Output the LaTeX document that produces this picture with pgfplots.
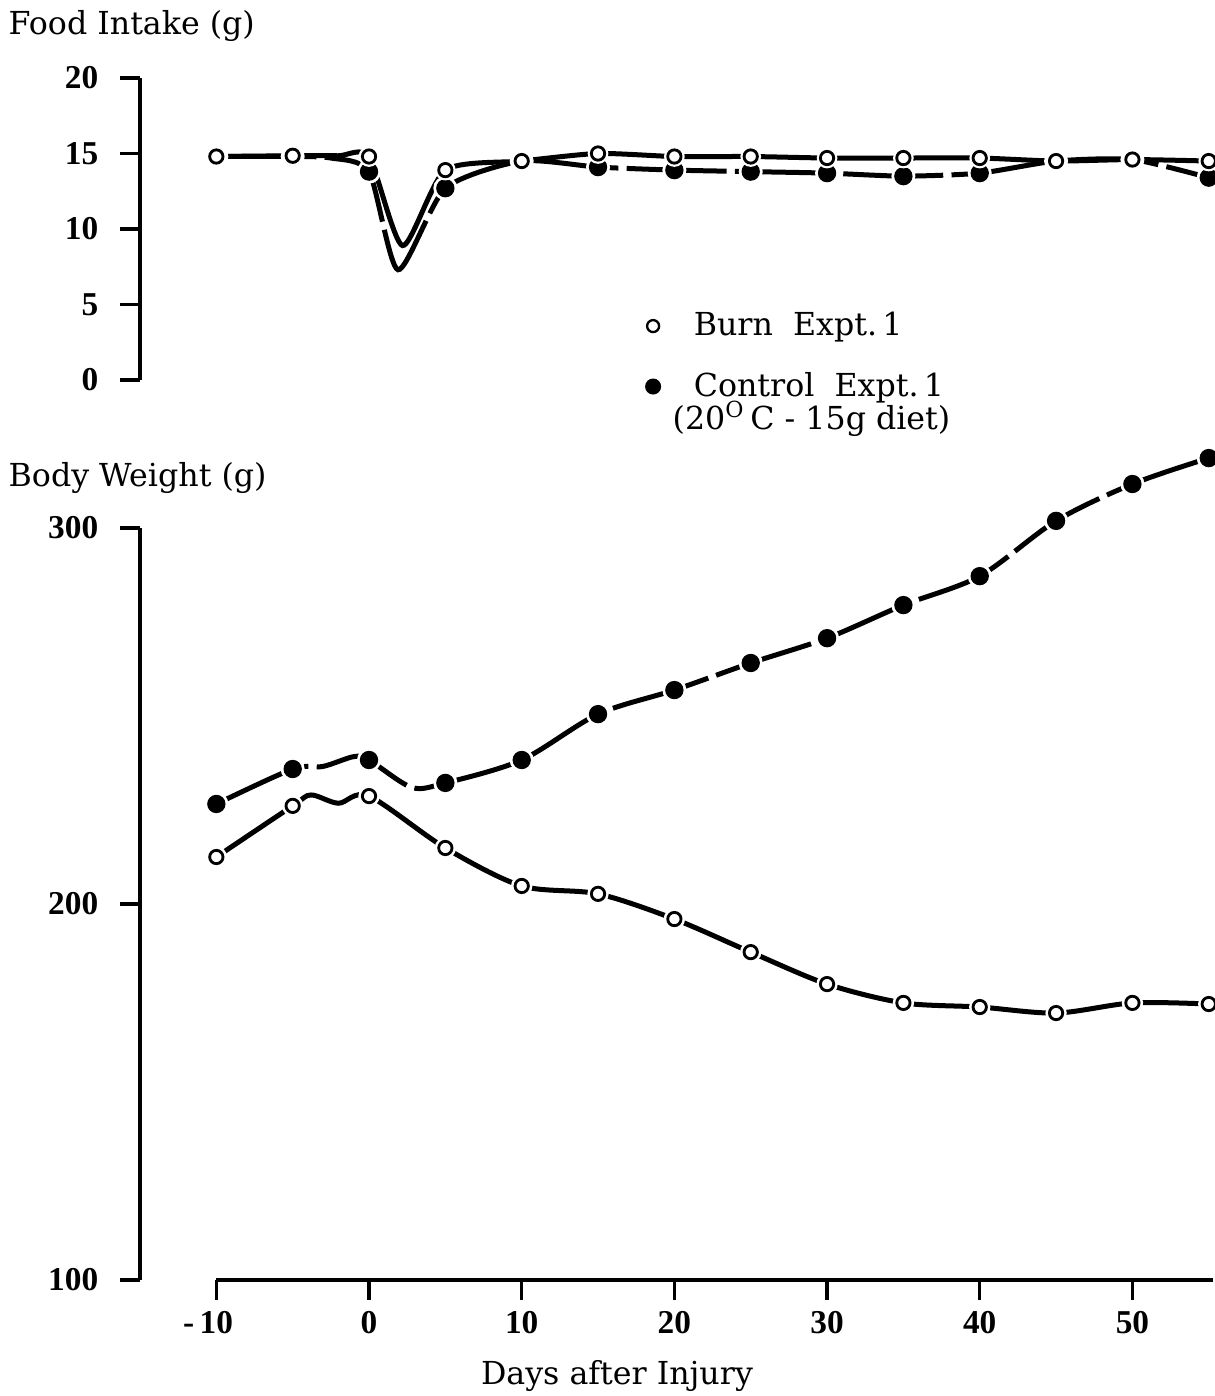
\documentclass[border=0pt]{standalone}
\usepackage{pgfplots}
\pgfplotsset{compat=1.18}
\usepackage{fontspec}
\setmainfont{DejaVu Serif}
\newfontfamily\tickfont{Liberation Serif}

\pgfplotstableread{
x y
-10 14.8
-5 14.85
-2 14.85
0 14.8
2.2 8.9
5 13.9
10 14.5
15 15.0
20 14.8
25 14.8
30 14.7
35 14.7
40 14.7
45 14.5
50 14.6
55 14.5
}\fiburnline
\pgfplotstableread{
x y
-10 14.8
-5 14.85
0 14.8
5 13.9
10 14.5
15 15.0
20 14.8
25 14.8
30 14.7
35 14.7
40 14.7
45 14.5
50 14.6
55 14.5
}\fiburn
\pgfplotstableread{
x y
-10 14.8
-5 14.8
-2.5 14.7
0 13.8
1.9 7.3
5 12.7
10 14.5
15 14.1
20 13.9
25 13.8
30 13.7
35 13.5
40 13.7
45 14.5
50 14.6
55 13.4
}\ficontline
\pgfplotstableread{
x y
-10 14.8
-5 14.8
0 13.8
5 12.7
10 14.5
15 14.1
20 13.9
25 13.8
30 13.7
35 13.5
40 13.7
45 14.5
50 14.6
55 13.4
}\ficont

\pgfplotstableread{
x y
-10 212.5
-5 226.1
-3.8 229.0
-2 226.8
0 228.7
5 214.9
10 204.8
15 202.7
20 196.0
25 187.2
30 178.7
35 173.7
40 172.6
45 171.0
50 173.7
55 173.4
}\bwburnline
\pgfplotstableread{
x y
-10 212.5
-5 226.1
0 228.7
5 214.9
10 204.8
15 202.7
20 196.0
25 187.2
30 178.7
35 173.7
40 172.6
45 171.0
50 173.7
55 173.4
}\bwburn
\pgfplotstableread{
x y
-10 226.6
-5 235.9
-3 236.6
-1 239.2
0 238.3
2.8 231.0
5 232.2
10 238.3
15 250.5
20 256.9
25 264.1
30 270.7
35 279.5
40 287.2
45 301.9
50 311.7
55 318.6
}\bwcontline
\pgfplotstableread{
x y
-10 226.6
-5 235.9
0 238.3
5 232.2
10 238.3
15 250.5
20 256.9
25 264.1
30 270.7
35 279.5
40 287.2
45 301.9
50 311.7
55 318.6
}\bwcont

\pgfplotsset{
  base/.style={
    scale only axis, width=322pt, xmin=-15, xmax=55.3,
    axis line style={line width=1pt, black},
    tick style={line width=1pt, black},
    major tick length=6pt,
    tick align=outside,
    clip=false,
    /pgf/number format/assume math mode=true,
    ticklabel style={font=\tickfont\bfseries\fontsize{10}{12}\selectfont},
    yticklabel style={xshift=-3pt},
  },
  curve/.style={line width=1.5pt, black, smooth, no marks},
  halo/.style={only marks, mark=*, mark size=3.4pt, mark options={draw=white, fill=white}},
  openm/.style={only marks, mark=*, mark size=2.0pt, mark options={fill=white, draw=black, line width=0.85pt}},
  fillm/.style={only marks, mark=*, mark size=2.55pt, mark options={fill=black, draw=black}},
}

\begin{document}
\begin{tikzpicture}
\useasboundingbox (0pt,0pt) rectangle (364.5pt,418.8pt);

% Food intake panel
\begin{axis}[base, at={(42pt,304.8pt)}, anchor=south west, height=90.6pt,
  ymin=0, ymax=20, ytick={0,5,10,15,20},
  axis y line*=left, axis x line=none,
  legend style={at={(axis description cs:0.4706,0.25)}, anchor=north west,
    draw=none, fill=none, row sep=5.5pt, inner sep=0pt,
    font=\fontsize{9.5}{11}\selectfont},
  legend cell align=left]
\addlegendimage{only marks, mark=*, mark size=1.8pt, mark options={fill=white, draw=black, line width=0.7pt}}
\addlegendentry{\hspace{8pt}Burn\ \ Expt.\,1}
\addlegendimage{only marks, mark=*, mark size=2.2pt, mark options={fill=black}}
\addlegendentry{\hspace{8pt}Control\ \ Expt.\,1}
\addplot[curve, tension=0.4, dash pattern=on 30pt off 2.5pt] table {\ficontline};
\addplot[curve, tension=0.4] table {\fiburnline};
\addplot[halo] table {\ficont};
\addplot[fillm] table {\ficont};
\addplot[halo, mark size=2.9pt] table {\fiburn};
\addplot[openm] table {\fiburn};
\end{axis}

% Body weight panel
\begin{axis}[base, at={(42pt,34.8pt)}, anchor=south west, height=225.6pt,
  ymin=100, ymax=300, ytick={100,200,300},
  xtick={-10,0,10,20,30,40,50},
  xticklabels={\llap{-\,}10,0,10,20,30,40,50},
  axis x line*=bottom, axis y line*=left,
  x axis line style={shorten <=22.8pt}]
\addplot[curve, dash pattern=on 30pt off 2.5pt] table {\bwcontline};
\addplot[curve] table {\bwburnline};
\addplot[halo] table {\bwcont};
\addplot[fillm] table {\bwcont};
\addplot[halo, mark size=3.0pt] table {\bwburn};
\addplot[openm] table {\bwburn};
\end{axis}

\begin{scope}[x=0.3pt,y=0.3pt]
\node[anchor=base west, inner sep=0pt, font=\fontsize{9.5}{11}\selectfont] at (8,1361) {Food Intake (g)};
\node[anchor=base west, inner sep=0pt, font=\fontsize{9.5}{11}\selectfont] at (8,909) {Body Weight (g)};
\node[anchor=base west, inner sep=0pt, font=\fontsize{9.5}{11}\selectfont] at (672,966) {(20\textsuperscript{O}\,C - 15g diet)};
\node[anchor=base, inner sep=0pt, font=\fontsize{9.5}{11}\selectfont] at (617,11) {Days after Injury};
\end{scope}
\end{tikzpicture}
\end{document}
